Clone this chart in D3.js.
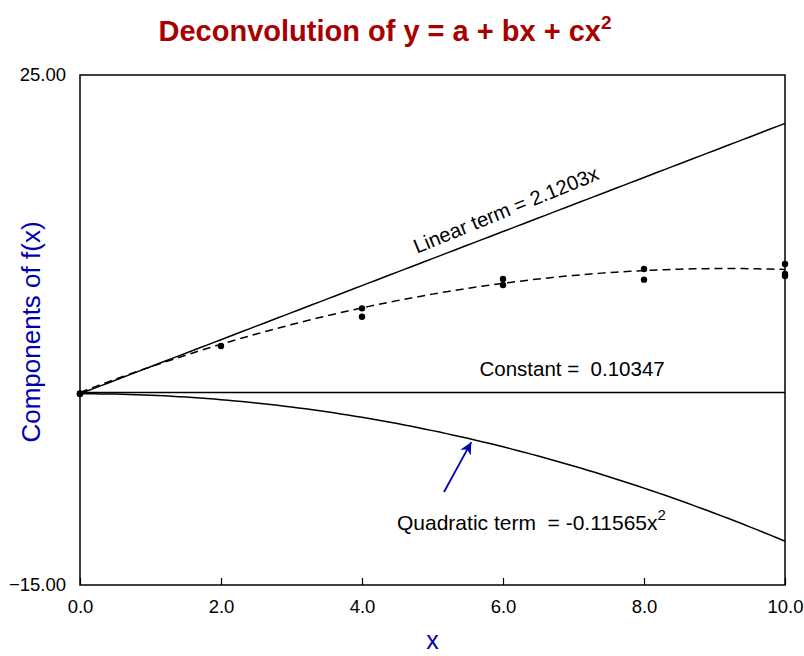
<!DOCTYPE html>
<html>
<head>
<meta charset="utf-8">
<script src="https://cdn.jsdelivr.net/npm/d3@7"></script>
<style>
  body { margin: 0; background: #fff; }
  text { font-family: Arial, "Liberation Sans", sans-serif; }
</style>
</head>
<body>
<div id="chart"></div>
<script>
// fitted coefficients
const coefA = 0.10347;
const coefB = 2.1203;
const coefC = -0.11565;

// observed points
const pointX = [0, 0, 0, 2, 4, 4, 6, 6, 8, 8, 10, 10, 10];
const pointY = [0, 0, 0, 3.75, 6.70, 6.04, 9.0, 8.53, 9.78, 8.95, 10.18, 9.39, 9.24];

// curve sample positions along x
const curveX = d3.range(0, 10.001, 0.1);

const xTicks = [0, 2, 4, 6, 8, 10];
const yTicks = [-15, 25];

const width = 804, height = 656;
const mLeft = 80, mRight = 785, mTop = 75, mBottom = 585;

const svg = d3.select("#chart").append("svg")
  .attr("width", width)
  .attr("height", height);

const x = d3.scaleLinear().domain([0, 10]).range([mLeft, mRight]);
const y = d3.scaleLinear().domain([-15, 25]).range([mBottom, mTop]);

// title
const title = svg.append("text")
  .attr("x", 385).attr("y", 41)
  .attr("text-anchor", "middle")
  .attr("fill", "#a80000")
  .style("font-size", "29px")
  .style("font-weight", "bold");
title.append("tspan").text("Deconvolution of y = a + bx + cx");
title.append("tspan").attr("dy", -12).style("font-size", "19px").text("2");

// frame
svg.append("rect")
  .attr("x", mLeft).attr("y", mTop)
  .attr("width", mRight - mLeft).attr("height", mBottom - mTop)
  .attr("fill", "none").attr("stroke", "#000").attr("stroke-width", 1.5);

// x axis: inside ticks
svg.append("g")
  .attr("transform", `translate(0,${mBottom})`)
  .call(d3.axisBottom(x).tickValues(xTicks).tickSizeInner(-7).tickSizeOuter(0).tickPadding(15).tickFormat(d3.format(".1f")))
  .call(g => g.select(".domain").remove())
  .call(g => g.selectAll("line").attr("stroke-width", 1.2))
  .call(g => g.selectAll("text").style("font-size", "18.5px").style("font-family", "Arial, 'Liberation Sans', sans-serif"));

// y axis labels only
svg.append("g")
  .attr("transform", `translate(${mLeft},0)`)
  .call(d3.axisLeft(y).tickValues(yTicks).tickSize(0).tickPadding(14).tickFormat(d3.format(".2f")))
  .call(g => g.select(".domain").remove())
  .call(g => g.selectAll("text").style("font-size", "18.5px").style("font-family", "Arial, 'Liberation Sans', sans-serif"));

// axis titles
svg.append("text")
  .attr("x", (mLeft + mRight) / 2).attr("y", 649)
  .attr("text-anchor", "middle")
  .attr("fill", "#0000b0")
  .style("font-size", "25px")
  .text("x");

svg.append("text")
  .attr("transform", `translate(40,${(mTop + mBottom) / 2 + 2}) rotate(-90)`)
  .attr("text-anchor", "middle")
  .attr("fill", "#0000b0")
  .style("font-size", "26px")
  .text("Components of f(x)");

const line = d3.line().x(d => x(d[0])).y(d => y(d[1]));

// component curves
svg.append("path")
  .datum(curveX.map(v => [v, coefA]))
  .attr("d", line).attr("fill", "none").attr("stroke", "#000").attr("stroke-width", 1.5);
svg.append("path")
  .datum(curveX.map(v => [v, coefB * v]))
  .attr("d", line).attr("fill", "none").attr("stroke", "#000").attr("stroke-width", 1.5);
svg.append("path")
  .datum(curveX.map(v => [v, coefC * v * v]))
  .attr("d", line).attr("fill", "none").attr("stroke", "#000").attr("stroke-width", 1.5);

// total fit, dashed
svg.append("path")
  .datum(curveX.map(v => [v, coefA + coefB * v + coefC * v * v]))
  .attr("d", line).attr("fill", "none").attr("stroke", "#000").attr("stroke-width", 1.5)
  .attr("stroke-dasharray", "8,5");

// data points
svg.selectAll("circle.pt")
  .data(pointX.map((v, i) => [v, pointY[i]]))
  .enter().append("circle")
  .attr("class", "pt")
  .attr("cx", d => x(d[0])).attr("cy", d => y(d[1]))
  .attr("r", 3.2).attr("fill", "#000");

// labels
const ang = Math.atan2(y(coefB * 10) - y(0), x(10) - x(0)) * 180 / Math.PI - 1.2;
svg.append("text")
  .attr("transform", `translate(${x(6.08)},${y(coefB * 6.08) - 13}) rotate(${ang})`)
  .attr("text-anchor", "middle")
  .style("font-size", "20.3px")
  .text("Linear term = 2.1203x");

svg.append("text")
  .attr("x", x(6.98)).attr("y", y(coefA) - 16)
  .attr("text-anchor", "middle")
  .style("font-size", "20.5px")
  .style("white-space", "pre")
  .text("Constant =  0.10347");

const q = svg.append("text")
  .attr("x", 397).attr("y", 530)
  .style("font-size", "21px")
  .style("white-space", "pre");
q.append("tspan").text("Quadratic term  = -0.11565x");
q.append("tspan").attr("dy", -10).style("font-size", "15px").text("2");

// arrow pointing to quadratic curve
svg.append("defs").append("marker")
  .attr("id", "ah").attr("viewBox", "0 0 10 10")
  .attr("refX", 10).attr("refY", 5)
  .attr("markerWidth", 12).attr("markerHeight", 12)
  .attr("markerUnits", "userSpaceOnUse")
  .attr("orient", "auto")
  .append("path").attr("d", "M0,0 L10,5 L0,10 L3,5 Z").attr("fill", "#0000b0");
svg.append("line")
  .attr("x1", 444).attr("y1", 492)
  .attr("x2", x(5.55)).attr("y2", y(coefC * 5.55 * 5.55) + 3)
  .attr("stroke", "#0000b0").attr("stroke-width", 1.8)
  .attr("marker-end", "url(#ah)");
</script>
</body>
</html>
